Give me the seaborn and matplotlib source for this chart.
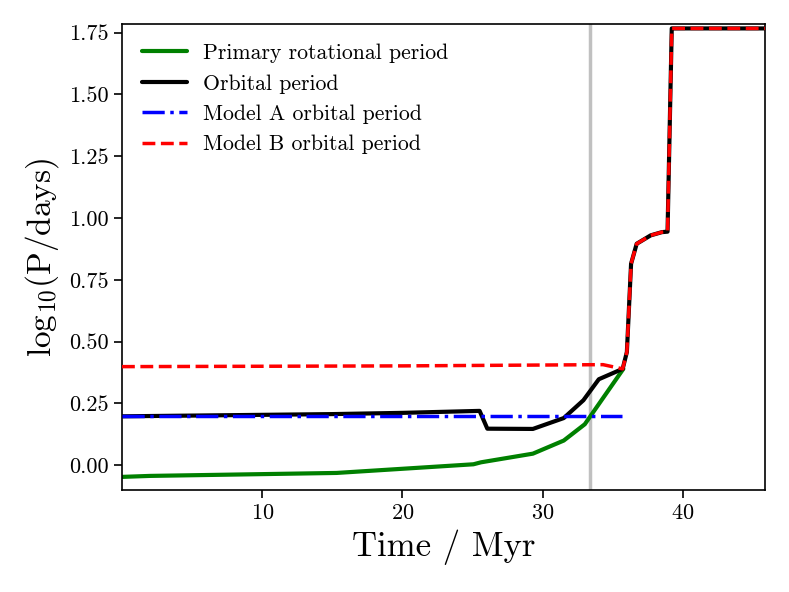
import matplotlib
matplotlib.use("Agg")
import matplotlib.pyplot as plt
import seaborn as sns
import pandas as pd

# ---- data ----
orb_x = [0.0, 5.0, 10.0, 15.0, 20.0, 25.5, 26.05, 29.3, 31.5, 32.9, 34.0, 35.7,
         36.0, 36.3, 36.7, 37.7, 38.5, 38.9, 39.2, 45.85]
orb_y = [0.198, 0.201, 0.204, 0.207, 0.212, 0.220, 0.148, 0.147, 0.191, 0.263, 0.348, 0.390,
         0.458, 0.815, 0.896, 0.930, 0.943, 0.945, 1.767, 1.767]

rot_x = [0.0, 2.0, 15.3, 25.06, 25.6, 29.3, 31.5, 33.0, 35.75]
rot_y = [-0.047, -0.043, -0.031, 0.004, 0.012, 0.047, 0.100, 0.166, 0.390]

modelA_x = [0.0, 35.65]
modelA_y = [0.200, 0.200]

modelB_x = [0.0, 20.0, 34.3, 35.7, 36.0, 36.3, 36.7, 37.7, 38.5, 38.9, 39.2, 45.85]
modelB_y = [0.399, 0.402, 0.407, 0.390, 0.458, 0.815, 0.896, 0.930, 0.943, 0.945, 1.767, 1.767]

vline_x = 33.38

labels = ["Primary rotational period", "Orbital period",
          "Model A orbital period", "Model B orbital period"]

# ---- style ----
sns.set_style("ticks")
plt.rcParams["font.family"] = ["cmr10", "DejaVu Serif"]
plt.rcParams["mathtext.fontset"] = "cm"
plt.rcParams["axes.formatter.use_mathtext"] = True
plt.rcParams["axes.unicode_minus"] = False
for k in ["text.color", "axes.labelcolor", "xtick.color", "ytick.color", "axes.edgecolor"]:
    plt.rcParams[k] = "black"

fig = plt.figure(figsize=(7.89, 5.92), dpi=100)
ax = fig.add_axes([0.1546, 0.1723, 0.9696 - 0.1546, 0.9595 - 0.1723])

ax.axvline(vline_x, color="#c0c0c0", lw=2.5, zorder=1)

df_rot = pd.DataFrame({"x": rot_x, "y": rot_y})
df_orb = pd.DataFrame({"x": orb_x, "y": orb_y})
df_a = pd.DataFrame({"x": modelA_x, "y": modelA_y})
df_b = pd.DataFrame({"x": modelB_x, "y": modelB_y})

sns.lineplot(data=df_rot, x="x", y="y", ax=ax, color="green", lw=3,
             sort=False, estimator=None, label=labels[0], zorder=2)
sns.lineplot(data=df_orb, x="x", y="y", ax=ax, color="black", lw=3,
             sort=False, estimator=None, label=labels[1], zorder=3)
sns.lineplot(data=df_a, x="x", y="y", ax=ax, color="blue", lw=2.5, linestyle="-.",
             sort=False, estimator=None, label=labels[2], zorder=4)
sns.lineplot(data=df_b, x="x", y="y", ax=ax, color="red", lw=2.5, linestyle="--",
             sort=False, estimator=None, label=labels[3], zorder=5)

ax.set_xlim(0.0, 45.85)
ax.set_ylim(-0.1, 1.785)
ax.set_xticks([10, 20, 30, 40])
ax.set_yticks([0.0, 0.25, 0.5, 0.75, 1.0, 1.25, 1.5, 1.75])
ax.set_yticklabels(["0.00", "0.25", "0.50", "0.75", "1.00", "1.25", "1.50", "1.75"])

ax.set_xlabel("Time / Myr", fontsize=25, labelpad=5)
ax.set_ylabel(r"$\mathrm{log}_{10}$(P/days)", fontsize=24, labelpad=6)
ax.tick_params(axis="both", labelsize=16, direction="out", length=6, width=1.2,
               color="black", labelcolor="black")
for sp in ax.spines.values():
    sp.set_color("black")
    sp.set_linewidth(1.2)

ax.legend(loc="upper left", frameon=False, fontsize=15.7, handlelength=2.1,
          handletextpad=0.73)

fig.savefig("out.png", dpi=100)
